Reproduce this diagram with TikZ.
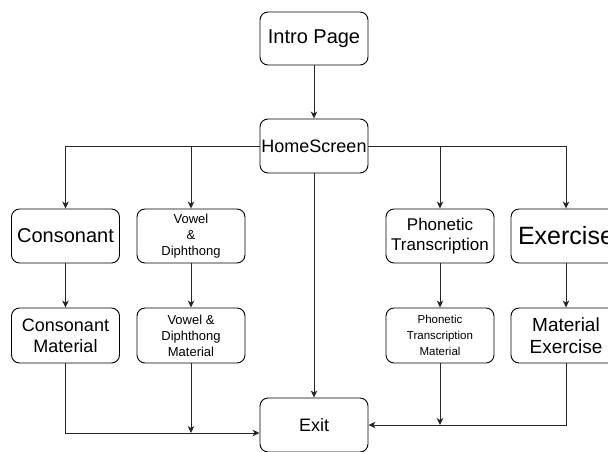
\documentclass[tikz,border=0pt]{standalone}
\usepackage{fontspec}
\setmainfont{Liberation Sans}
\usetikzlibrary{arrows.meta,calc}

\newcommand{\fs}[2]{\fontsize{#1}{#2}\selectfont}

\tikzset{
  box/.style={draw=black, line width=0.9pt, rounded corners=8pt, fill=white,
    align=center, inner sep=0pt, minimum width=108pt, minimum height=54pt},
  arr/.style={draw=black!85, line width=0.9pt,
    -{Stealth[length=7pt,width=6.5pt,inset=2pt]}},
}

\begin{document}
\begin{tikzpicture}[x=1pt,y=-1pt]
  \useasboundingbox (0,0) rectangle (608,451);
  \clip (0,0) rectangle (608,451);

  % top of the flow
  \node[box, minimum height=53pt, font=\fs{20}{24}] (intro) at (314,38.5) {Intro Page};
  \node[box, font=\fs{18}{22}] (home) at (314,146) {HomeScreen};

  % the four sections
  \node[box, font=\fs{20}{24}] (cons)  at (65.5,236) {Consonant};
  \node[box, font=\fs{13}{16}] (vowel) at (191,236)  {Vowel\\\&\\Diphthong};
  \node[box, font=\fs{17}{20}] (phon)  at (440,236)  {Phonetic\\Transcription};
  \node[box, minimum width=110pt, font=\fs{25}{28}] (exer) at (566,236) {Exercise};

  % material pages
  \node[box, minimum height=55pt, font=\fs{18}{21}] (consm)  at (65.5,335.5) {Consonant\\Material};
  \node[box, minimum height=55pt, font=\fs{13}{16}] (vowelm) at (191,335.5)  {Vowel \&\\Diphthong\\Material};
  \node[box, minimum height=55pt, font=\fs{11.5}{16}] (phonm) at (440,335.5) {Phonetic\\Transcription\\Material};
  \node[box, minimum height=55pt, minimum width=110pt, font=\fs{19}{22}] (exerm) at (566,335.5) {Material\\Exercise};

  \node[box, font=\fs{18}{22}] (exit) at (314,425) {Exit};

  % junction points on the way into Exit
  \coordinate (inL) at ($(exit.west)+(0,8)$);
  \coordinate (inR) at (exit.east);

  % connectors
  \draw[arr] (intro) -- (home);
  \draw[arr] (home.west) -| (cons.north);
  \draw[arr] (home.west) -| (vowel.north);
  \draw[arr] (home.east) -| (phon.north);
  \draw[arr] (home.east) -| (exer.north);
  \draw[arr] (home) -- (exit);

  \draw[arr] (cons) -- (consm);
  \draw[arr] (vowel) -- (vowelm);
  \draw[arr] (phon) -- (phonm);
  \draw[arr] (exer) -- (exerm);

  \draw[arr] (consm.south) |- (inL);
  \draw[arr] (vowelm.south) -- (vowelm.south |- inL);
  \draw[arr] (exerm.south) |- (inR);
  \draw[arr] (phonm.south) -- (phonm.south |- inR);
\end{tikzpicture}
\end{document}
